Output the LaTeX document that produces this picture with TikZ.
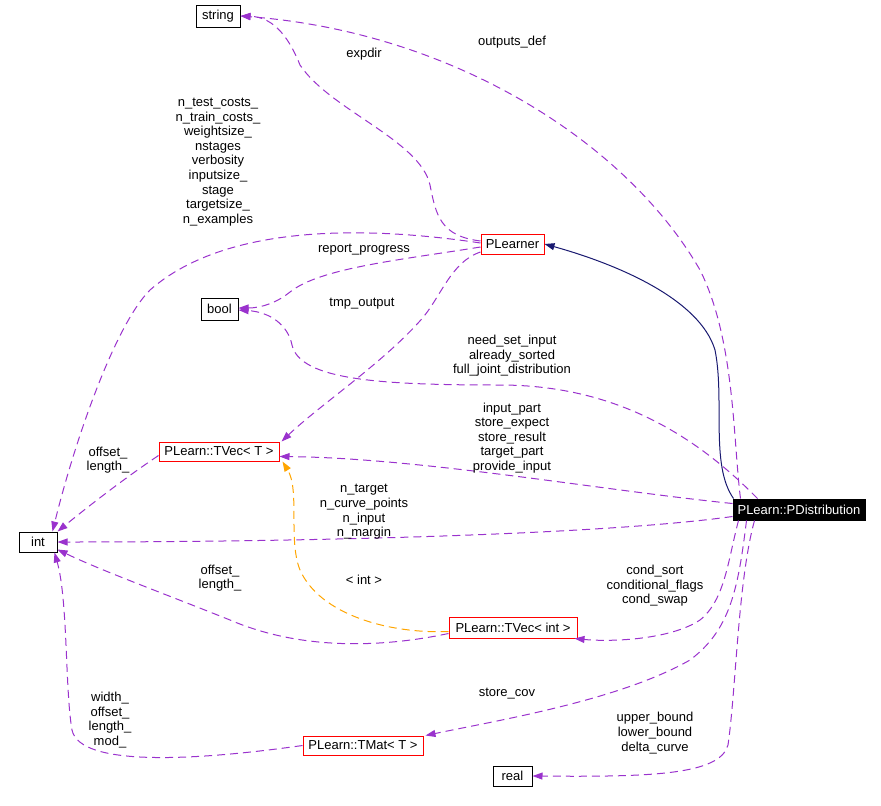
\documentclass[tikz,border=0pt]{standalone}
\usepackage{fontspec}
\setmainfont{Liberation Sans}
\usetikzlibrary{arrows.meta, positioning}
\definecolor{mpurple}{RGB}{154, 50, 205}
\definecolor{iblue}{RGB}{25, 25, 112}
\definecolor{torange}{RGB}{255, 165, 0}
\newcommand{\diagfont}{\fontsize{13}{14.6}\selectfont}
\tikzset{
  cls/.style={rectangle, draw=black, fill=white, minimum width=#1, minimum height=20pt,
              inner xsep=2pt, inner ysep=0pt, line width=1pt, font=\diagfont},
  cls/.default=40pt,
  tcls/.style={cls=#1, draw=red},
  tcls/.default=120pt,
  maincls/.style={cls=#1, fill=black, text=white},
  member/.style={-{Triangle[length=10pt,width=7pt]}, draw=mpurple, fill=none, line width=1pt,
                 dash pattern=on 8pt off 5pt},
  inherit/.style={-{Triangle[length=10pt,width=7pt]}, draw=iblue, line width=1pt},
  tmplarg/.style={member, draw=torange},
  lbl/.style={align=center, inner sep=0pt, font=\diagfont},
}

\begin{document}
\begin{tikzpicture}[x=1pt, y=-1pt]
  \useasboundingbox (0,0) rectangle (881,806);

  % classes
  \node[cls=44pt, minimum height=22pt] (string) at (218,16) {string};
  \node[tcls=63pt] (pl) at (512.5,244) {PLearner};
  \node[cls=37pt, minimum height=22pt] (bool) at (219.5,309) {bool};
  \node[tcls=120pt, minimum height=19pt] (tvT) at (219,451.5) {PLearn::TVec< T >};
  \node[cls=38pt] (int) at (38,542) {int};
  \node[maincls=132pt, minimum height=21pt] (pd) at (799,509.5) {PLearn::PDistribution};
  \node[tcls=128pt, minimum height=21pt] (tvi) at (513,627.5) {PLearn::TVec< int >};
  \node[tcls=120pt, minimum height=19pt] (tmat) at (363,745.5) {PLearn::TMat< T >};
  \node[cls=39pt] (real) at (512.5,776) {real};

  % inheritance
  \draw[inherit] ([xshift=1pt]pd.north west) .. controls (710,465) and (725,400) .. (715,350)
        .. controls (700,300) and (620,265) .. (pl.east);

  % members of PLearner
  \draw[member] ([yshift=3pt]pl.west) .. controls (440,236) and (436,215) .. (430,185)
        .. controls (420,140) and (330,110) .. (300,65)
        .. controls (290,40) and (275,17) .. (string.east);
  \draw[member] ([yshift=1pt]pl.west) .. controls (380,228) and (230,220) .. (150,290)
        .. controls (115,325) and (75,440) .. ([xshift=-5pt]int.north east);
  \draw[member] ([yshift=-3pt]pl.west) .. controls (400,260) and (320,268) .. (290,292)
        .. controls (278,302) and (262,308) .. ([yshift=1pt]bool.east);
  \draw[member] ([yshift=-8pt]pl.west) .. controls (450,262) and (440,300) .. (419,322)
        .. controls (380,365) and (320,405) .. ([xshift=2pt]tvT.north east);

  % members of PDistribution
  \draw[member] ([xshift=8pt]pd.north west) .. controls (733,440) and (735,340) .. (700,270)
        .. controls (625,140) and (450,32) .. (string.east);
  \draw[member] ([xshift=25pt]pd.north west) .. controls (700,440) and (620,385) .. (500,385)
        .. controls (380,385) and (300,380) .. (292,345)
        .. controls (288,325) and (270,312) .. ([yshift=-1pt]bool.east);
  \draw[member] ([yshift=6pt]pd.west) .. controls (600,490) and (420,458) .. ([yshift=-5pt]tvT.east);
  \draw[member] ([yshift=-7pt]pd.west) .. controls (600,535) and (300,542) .. (int.east);
  \draw[member] ([xshift=6pt]pd.south west) .. controls (728,560) and (725,600) .. (700,620)
        .. controls (670,640) and (610,642) .. ([xshift=-3pt]tvi.south east);
  \draw[member] ([xshift=14pt]pd.south west) .. controls (738,590) and (730,630) .. (690,660)
        .. controls (620,700) and (500,720) .. ([xshift=2pt]tmat.north east);
  \draw[member] ([xshift=22pt]pd.south west) .. controls (738,580) and (736,690) .. (728,745)
        .. controls (720,775) and (650,777) .. (real.east);

  % members of the templates
  \draw[member] ([yshift=-4pt]tvT.west) .. controls (125,478) and (90,505) .. (int.north east);
  \draw[member] ([yshift=-6pt]tvi.west) .. controls (380,648) and (300,650) .. (230,620)
        .. controls (160,592) and (100,570) .. ([yshift=3pt]int.south east);
  \draw[member] (tmat.west) .. controls (200,760) and (80,768) .. (72,730)
        .. controls (65,690) and (68,600) .. ([xshift=-3pt]int.south east);
  \draw[tmplarg] ([yshift=-4pt]tvi.west) .. controls (390,634) and (320,615) .. (300,570)
        .. controls (288,540) and (300,490) .. ([xshift=3pt]tvT.south east);

  % labels
  \node[lbl] (lexpdir) at (364,54) {expdir};
  \node[lbl] (loutputs) at (512,42) {outputs\_def};
  \node[lbl] (lplint) at (218,162) {n\_test\_costs\_\\n\_train\_costs\_\\weightsize\_\\nstages\\verbosity\\inputsize\_\\stage\\targetsize\_\\n\_examples};
  \node[lbl] (lreport) at (364,250) {report\_progress};
  \node[lbl] (ltmp) at (362,304) {tmp\_output};
  \node[lbl] (lbool) at (512,356) {need\_set\_input\\already\_sorted\\full\_joint\_distribution};
  \node[lbl] (ltvec) at (512,438) {input\_part\\store\_expect\\store\_result\\target\_part\\provide\_input};
  \node[lbl] (ltvTint) at (108,460) {offset\_\\length\_};
  \node[lbl] (lint) at (364,512) {n\_target\\n\_curve\_points\\n\_input\\n\_margin};
  \node[lbl] (ltviint) at (220,578) {offset\_\\length\_};
  \node[lbl] (ltarg) at (364,580) {< int >};
  \node[lbl] (lcond) at (655,586) {cond\_sort\\conditional\_flags\\cond\_swap};
  \node[lbl] (lcov) at (507,694) {store\_cov};
  \node[lbl] (ltmint) at (110,720) {width\_\\offset\_\\length\_\\mod\_};
  \node[lbl] (lreal) at (655,733) {upper\_bound\\lower\_bound\\delta\_curve};
\end{tikzpicture}
\end{document}
